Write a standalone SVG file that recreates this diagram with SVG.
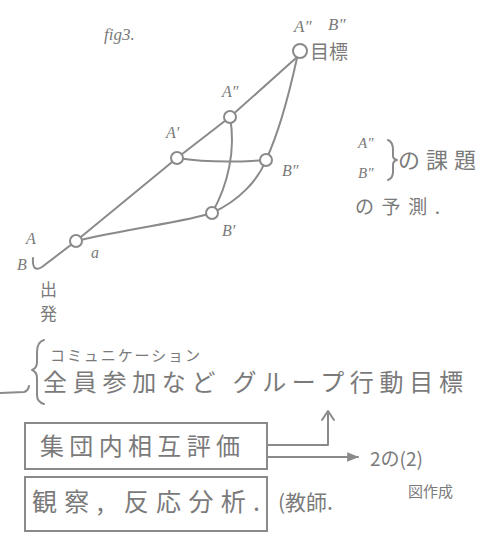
<svg xmlns="http://www.w3.org/2000/svg" width="481" height="540" viewBox="0 0 481 540">
<style>
.ln{fill:none;stroke:#8a8a8a;stroke-width:2;stroke-linecap:round;stroke-linejoin:round}
.nd{fill:#fff;stroke:#8a8a8a;stroke-width:2}
.t{font-family:"Noto Sans CJK JP","Liberation Sans",sans-serif;fill:#7a7a7a}
.lt{font-family:"Liberation Serif",serif;font-style:italic;fill:#7a7a7a}
</style>
<defs>
<marker id="ah" viewBox="0 0 10 10" refX="9" refY="5" markerWidth="6" markerHeight="6" orient="auto"><path d="M0,1 L10,5 L0,9 Z" fill="#8a8a8a"/></marker>
</defs>
<rect width="481" height="540" fill="#fff"/>
<text class="lt" x="104" y="40" font-size="17">fig3.</text>
<g id="connectors">
<path class="ln" d="M33,258 Q32,273 42,267 L76,241 L177,158 L230,117 L296,58"/>
<path class="ln" d="M76,241 C130,228 185,222 212,213 C240,200 258,180 266,160 C280,130 290,90 297,58"/>
<path class="ln" d="M177,158 C210,163 240,162 266,160"/>
<path class="ln" d="M230,117 C236,150 228,185 212,213"/>
<path class="ln" d="M0,393 L24,392 Q28,391 29,386"/>
<path class="ln" d="M44,340 Q37,342 37,352 L37,362 Q37,368 32,370 Q37,372 37,378 L37,395 Q37,402 44,404"/>
<path class="ln" d="M388,140 Q393,142 393,150 L393,156 Q393,159 397,160 Q393,161 393,165 L393,172 Q393,178 388,180"/>
<path class="ln" d="M267,445 L328,445 L328,412"/>
<path class="ln" d="M322,420 L328,411 L334,420"/>
<path class="ln" d="M267,457 L358,457" marker-end="url(#ah)"/>
</g>
<g id="goal">
<circle class="nd" cx="300" cy="51" r="7"/>
<text class="lt" x="294" y="32" font-size="17">A″</text>
<text class="lt" x="328" y="30" font-size="17">B″</text>
<text class="t" x="310" y="59" font-size="19">目標</text>
</g>
<g id="nodeA2"><circle class="nd" cx="230" cy="117" r="6"/><text class="lt" x="222" y="97" font-size="16">A″</text></g>
<g id="nodeA1"><circle class="nd" cx="177" cy="158" r="6"/><text class="lt" x="166" y="138" font-size="16">A′</text></g>
<g id="nodeB2"><circle class="nd" cx="266" cy="160" r="6"/><text class="lt" x="282" y="176" font-size="16">B″</text></g>
<g id="nodeB1"><circle class="nd" cx="212" cy="213" r="6"/><text class="lt" x="222" y="236" font-size="16">B′</text></g>
<g id="nodea"><circle class="nd" cx="76" cy="241" r="6"/><text class="lt" x="91" y="258" font-size="16">a</text></g>
<g id="start">
<text class="lt" x="26" y="244" font-size="16">A</text>
<text class="lt" x="17" y="270" font-size="16">B</text>
<text class="t" x="40" y="296" font-size="17">出</text>
<text class="t" x="40" y="320" font-size="17">発</text>
</g>
<g id="note">
<text class="lt" x="358" y="148" font-size="15">A″</text>
<text class="lt" x="358" y="178" font-size="15">B″</text>
<text class="t" x="398" y="168" font-size="22" textLength="78">の課題</text>
<text class="t" x="355" y="214" font-size="19" textLength="85">の予測.</text>
</g>
<g id="goals">
<text class="t" x="50" y="361" font-size="15" textLength="150">コミュニケーション</text>
<text class="t" x="43" y="391" font-size="24" textLength="420">全員参加など グループ行動目標</text>
</g>
<g id="box1">
<rect x="25" y="423" width="242" height="46" fill="none" stroke="#8a8a8a" stroke-width="2"/>
<text class="t" x="40" y="455" font-size="24" textLength="200">集団内相互評価</text>
</g>
<g id="box2">
<rect x="25" y="477" width="242" height="54" fill="none" stroke="#8a8a8a" stroke-width="2"/>
<text class="t" x="32" y="511" font-size="25" textLength="228">観察, 反応分析.</text>
</g>
<text class="t" x="278" y="510" font-size="21">(教師.</text>
<text class="t" x="370" y="466" font-size="19">2の(2)</text>
<text class="t" x="408" y="497" font-size="15">図作成</text>
</svg>
